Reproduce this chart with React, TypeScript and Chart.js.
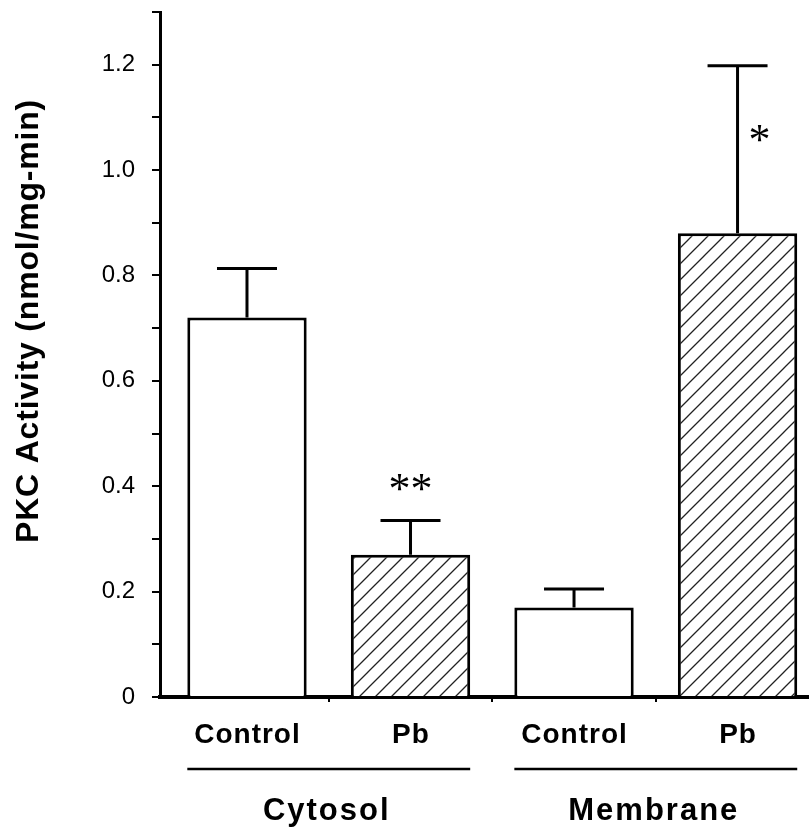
import React, { useEffect, useRef } from 'react';
import { Chart, registerables } from 'chart.js';

Chart.register(...registerables);

// ---- data ----
const categories = ['Control', 'Pb', 'Control', 'Pb'];
const barPositions = [1, 2, 3, 4];
const values = [0.72, 0.27, 0.17, 0.88];
const errors = [0.093, 0.065, 0.035, 0.318];
const hatched = [false, true, false, true];
const groups = ['Cytosol', 'Membrane'];
const groupMembers = [[0, 1], [2, 3]];
const significance = ['', '**', '', '*'];
const significanceY = [0, 0.408, 0, 1.07];
const xTickValues = [1.5, 2.5, 3.5];
const yTickLabels = ['0', '0.2', '0.4', '0.6', '0.8', '1.0', '1.2'];
const yTitle = 'PKC Activity (nmol/mg-min)';

const SANS = '"Liberation Sans", Arial, Helvetica, sans-serif';

function makeHatch(): CanvasPattern | string {
  const s = 16;
  const c = document.createElement('canvas');
  c.width = s;
  c.height = s;
  const g = c.getContext('2d');
  if (!g) return '#fff';
  g.fillStyle = '#fff';
  g.fillRect(0, 0, s, s);
  g.strokeStyle = '#222';
  g.lineWidth = 1.3;
  g.beginPath();
  g.moveTo(0, s);
  g.lineTo(s, 0);
  g.moveTo(-2, 2);
  g.lineTo(2, -2);
  g.moveTo(s - 2, s + 2);
  g.lineTo(s + 2, s - 2);
  g.stroke();
  const p = g.createPattern(c, 'repeat');
  return p || '#fff';
}

const annotations = {
  id: 'annotations',
  afterDatasetsDraw(chart: any) {
    const ctx = chart.ctx as CanvasRenderingContext2D;
    const xs = chart.scales.x;
    const ys = chart.scales.y;
    const area = chart.chartArea;
    ctx.save();
    // error bars
    ctx.strokeStyle = '#000';
    ctx.lineWidth = 3;
    values.forEach((v, i) => {
      const x = xs.getPixelForValue(barPositions[i]);
      const yTop = ys.getPixelForValue(v);
      const yErr = ys.getPixelForValue(v + errors[i]);
      ctx.beginPath();
      ctx.moveTo(x, yTop);
      ctx.lineTo(x, yErr);
      ctx.moveTo(x - 30, yErr);
      ctx.lineTo(x + 30, yErr);
      ctx.stroke();
    });
    // significance marks
    ctx.fillStyle = '#000';
    ctx.font = '44px "Liberation Serif", "Times New Roman", serif';
    ctx.textAlign = 'center';
    ctx.textBaseline = 'alphabetic';
    significance.forEach((t, i) => {
      if (!t) return;
      const m = ctx.measureText(t);
      const dx = t.length === 1 ? 22 : 0;
      const cx = xs.getPixelForValue(barPositions[i]) + dx;
      const cy = ys.getPixelForValue(significanceY[i]);
      const base = cy - (m.actualBoundingBoxDescent - m.actualBoundingBoxAscent) / 2;
      ctx.fillText(t, cx, base);
    });
    // category labels
    ctx.font = 'bold 28px ' + SANS;
    (ctx as any).letterSpacing = '1px';
    ctx.textAlign = 'center';
    categories.forEach((c, i) => {
      const x = xs.getPixelForValue(barPositions[i]);
      ctx.fillText(c, x + 0.5, area.bottom + 46);
    });
    // group lines and labels
    const meta = chart.getDatasetMeta(0);
    groupMembers.forEach((mem, gi) => {
      const first = meta.data[mem[0]];
      const last = meta.data[mem[mem.length - 1]];
      const x0 = first.x - first.width / 2;
      const x1 = last.x + last.width / 2;
      ctx.lineWidth = 2.5;
      ctx.beginPath();
      ctx.moveTo(x0, area.bottom + 72);
      ctx.lineTo(x1, area.bottom + 72);
      ctx.stroke();
      ctx.font = 'bold 31px ' + SANS;
      (ctx as any).letterSpacing = '2px';
      const cx = (first.x + last.x) / 2 - 3;
      ctx.fillText(groups[gi], cx + 1, area.bottom + 123);
    });
    // y-axis title
    ctx.font = 'bold 32px ' + SANS;
    (ctx as any).letterSpacing = '0.8px';
    ctx.translate(29, 321);
    ctx.rotate(-Math.PI / 2);
    ctx.textBaseline = 'middle';
    ctx.fillText(yTitle, 0, 0);
    ctx.restore();
  },
};

export default function App() {
  const ref = useRef<HTMLCanvasElement | null>(null);
  useEffect(() => {
    document.body.style.margin = '0';
    const canvas = ref.current;
    if (!canvas) return;
    const hatch = makeHatch();
    const chart = new Chart(canvas, {
      type: 'bar',
      data: {
        datasets: [
          {
            data: values.map((v, i) => ({ x: barPositions[i], y: v })),
            backgroundColor: hatched.map((h) => (h ? hatch : '#ffffff')) as any,
            borderColor: '#000',
            borderWidth: 3,
            borderSkipped: 'start',
            barPercentage: 0.73,
            categoryPercentage: 1,
          },
        ],
      },
      options: {
        animation: false,
        responsive: false,
        maintainAspectRatio: false,
        layout: { padding: { top: 12, right: 0, bottom: 0, left: 0 } },
        plugins: { legend: { display: false }, tooltip: { enabled: false } },
        scales: {
          x: {
            type: 'linear',
            min: 0.468,
            max: 4.437,
            offset: false,
            grid: {
              offset: false,
              drawOnChartArea: false,
              drawTicks: true,
              tickLength: 5,
              color: '#000',
              lineWidth: 2,
            },
            border: { display: true, color: '#000', width: 4 },
            ticks: { display: false },
            afterBuildTicks: (scale: any) => {
              scale.ticks = xTickValues.map((value) => ({ value }));
            },
            afterFit: (scale: any) => {
              scale.height = 135;
              scale.paddingLeft = 0;
              scale.paddingRight = 0;
            },
          },
          y: {
            min: 0,
            max: 1.3,
            grid: {
              drawOnChartArea: false,
              drawTicks: true,
              tickLength: 8,
              color: '#000',
              lineWidth: 2,
            },
            border: { display: true, color: '#000', width: 3 },
            ticks: {
              stepSize: 0.1,
              autoSkip: false,
              padding: 17,
              color: '#000',
              font: { family: SANS, size: 24, lineHeight: 1 },
              callback: (v: any) => {
                const k = Math.round(Number(v) * 10);
                return k % 2 === 0 && k / 2 < yTickLabels.length ? yTickLabels[k / 2] : '';
              },
            },
            afterFit: (scale: any) => {
              scale.width = 160;
              scale.paddingTop = 0;
              scale.paddingBottom = 0;
            },
          },
        },
      },
      plugins: [annotations],
    });
    return () => chart.destroy();
  }, []);
  return (
    <div style={{ width: 809, height: 832, overflow: 'hidden', background: '#fff' }}>
      <canvas ref={ref} width={809} height={832} style={{ display: 'block' }} />
    </div>
  );
}
